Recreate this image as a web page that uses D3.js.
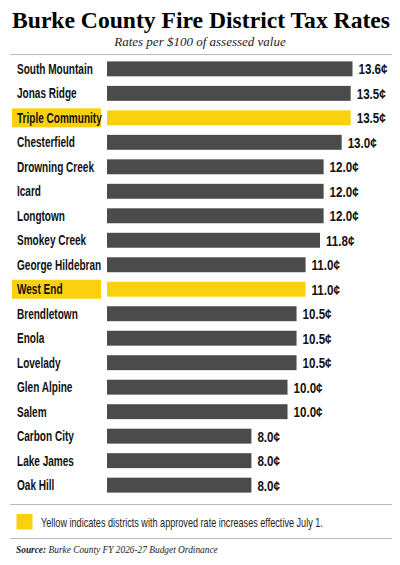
<!DOCTYPE html>
<html>
<head>
<meta charset="utf-8">
<script src="https://cdn.jsdelivr.net/npm/d3@7"></script>
<style>
  body { margin: 0; background: #fff; }
  .cond { font-family: "Liberation Sans", Arial, sans-serif; }
  .serif { font-family: "Liberation Serif", "DejaVu Serif", serif; }
</style>
</head>
<body>
<div id="vis"></div>
<script>
// ==== DATA ====
const districts = ["South Mountain", "Jonas Ridge", "Triple Community", "Chesterfield",
  "Drowning Creek", "Icard", "Longtown", "Smokey Creek", "George Hildebran", "West End",
  "Brendletown", "Enola", "Lovelady", "Glen Alpine", "Salem", "Carbon City", "Lake James", "Oak Hill"];
const rates = [13.6, 13.5, 13.5, 13.0, 12.0, 12.0, 12.0, 11.8, 11.0, 11.0,
  10.5, 10.5, 10.5, 10.0, 10.0, 8.0, 8.0, 8.0];
const increased = ["Triple Community", "West End"];

const width = 400, height = 565;
const gray = "#4b4b4b", yellow = "#fbd10f";

const svg = d3.select("#vis").append("svg")
  .attr("width", width)
  .attr("height", height);

const rows = districts.map((d, i) => ({name: d, value: rates[i], hi: increased.includes(d)}));

// squash a text horizontally so it fills a given width (no narrow fonts here)
function fitWidth(sel, x, y, w) {
  sel.attr("transform", function() {
    const len = this.getComputedTextLength();
    return `translate(${x},${y}) scale(${w / len},1)`;
  });
}

// ==== SCALES ====
const x = d3.scaleLinear().domain([0, 13.6]).range([107, 352.5]);
const y = d3.scaleBand().domain(districts).range([56.5, 497.5]).paddingInner(0.39).paddingOuter(0.2);
const mid = d => y(d.name) + y.bandwidth() / 2;

// ==== HEADER ====
svg.append("text")
  .attr("class", "serif")
  .attr("x", 12).attr("y", 28)
  .attr("textLength", 378).attr("lengthAdjust", "spacingAndGlyphs")
  .style("font-size", "24px").style("font-weight", "bold")
  .text("Burke County Fire District Tax Rates");

svg.append("text")
  .attr("class", "serif")
  .attr("x", 200).attr("y", 46)
  .attr("text-anchor", "middle")
  .style("font-size", "13px").style("font-style", "italic").style("fill", "#222")
  .text("Rates per $100 of assessed value");

svg.append("line")
  .attr("x1", 10).attr("x2", 392).attr("y1", 54.5).attr("y2", 54.5)
  .attr("stroke", "#bbb");

// ==== BARS ====
const g = svg.selectAll("g.row").data(rows).enter().append("g").attr("class", "row");

g.filter(d => d.hi).append("rect")
  .attr("x", 12).attr("width", 89)
  .attr("y", d => mid(d) - 9.5)
  .attr("height", 19)
  .attr("fill", yellow);

g.append("text")
  .attr("class", "cond")
  .attr("transform", d => `translate(17,${mid(d) + 5}) scale(0.67,1)`)
  .style("font-size", "15px").style("font-weight", "bold").style("fill", "#111")
  .text(d => d.name);

g.append("rect")
  .attr("x", x(0))
  .attr("y", d => y(d.name))
  .attr("width", d => x(d.value) - x(0))
  .attr("height", y.bandwidth())
  .attr("fill", d => d.hi ? yellow : gray);

g.append("text")
  .attr("class", "cond")
  .attr("transform", d => `translate(${x(d.value) + 6},${mid(d) + 5.5}) scale(0.8,1)`)
  .style("font-size", "14.5px").style("font-weight", "bold").style("fill", "#111")
  .text(d => d.value.toFixed(1) + "¢");

// ==== FOOTER ====
svg.append("line")
  .attr("x1", 10).attr("x2", 392).attr("y1", 504.5).attr("y2", 504.5)
  .attr("stroke", "#bbb");

svg.append("rect")
  .attr("x", 16.5).attr("y", 514).attr("width", 16).attr("height", 15.5)
  .attr("fill", yellow);

svg.append("text")
  .attr("class", "cond")
  .style("font-size", "13px").style("fill", "#222")
  .text("Yellow indicates districts with approved rate increases effective July 1.")
  .call(fitWidth, 41, 527, 282);

svg.append("line")
  .attr("x1", 10).attr("x2", 392).attr("y1", 538.5).attr("y2", 538.5)
  .attr("stroke", "#bbb");

const src = svg.append("text")
  .attr("class", "serif")
  .style("font-size", "10.5px").style("font-style", "italic").style("fill", "#222");
src.append("tspan").style("font-weight", "bold").text("Source: ");
src.append("tspan").text("Burke County FY 2026-27 Budget Ordinance");
src.call(fitWidth, 16, 553, 202);
</script>
</body>
</html>
